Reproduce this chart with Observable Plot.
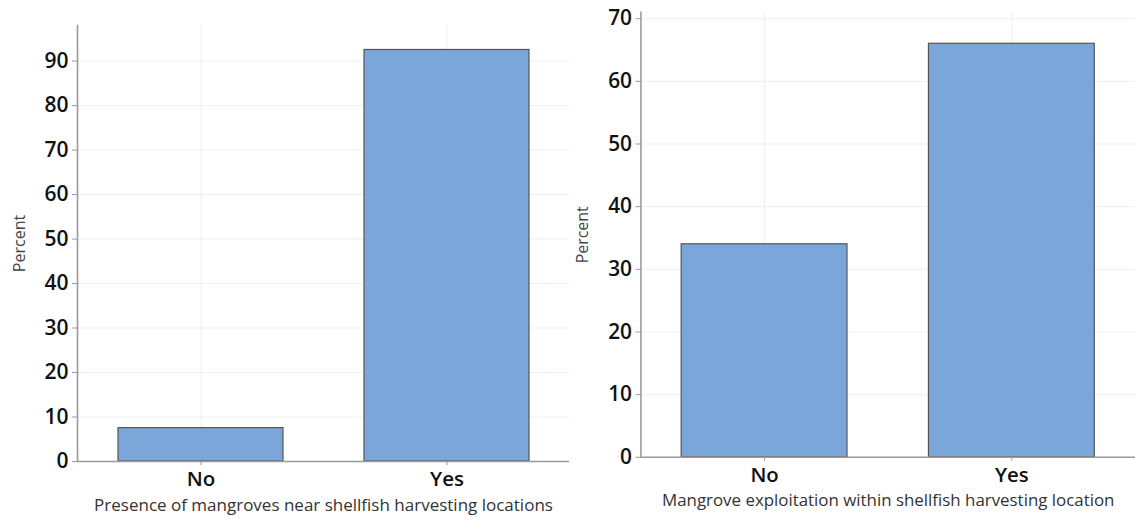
<!DOCTYPE html>
<html>
<head>
<meta charset="utf-8">
<script src="https://cdn.jsdelivr.net/npm/d3@7"></script>
<script src="https://cdn.jsdelivr.net/npm/@observablehq/plot@0.6"></script>
<style>
  html, body { margin: 0; padding: 0; background: #fff; overflow: hidden; }
  #wrap { position: relative; width: 1135px; height: 519px; }
  #left, #right { position: absolute; top: 0; }
  #left { left: 0; }
  #right { left: 560px; }
  svg { overflow: visible; }
</style>
</head>
<body>
<div id="wrap"><div id="left"></div><div id="right"></div></div>
<script>
// Data
const categories = ["No", "Yes"];
const leftValues = [7.5, 92.5];
const rightValues = [34, 66];
const leftTicks = [0, 10, 20, 30, 40, 50, 60, 70, 80, 90];
const rightTicks = [0, 10, 20, 30, 40, 50, 60, 70];
const leftTitle = "Presence of mangroves near shellfish harvesting locations";
const rightTitle = "Mangrove exploitation within shellfish harvesting location";
const yLabel = "Percent";

const FONT = "'Open Sans', 'Noto Sans', sans-serif";
const BAR_FILL = "#7BA6D9";
const BAR_STROKE = "#555555";
const AXIS = "#9a9a9a";
const GRID = "#efefef";

function panel({values, ticks, ymax, title, width, height, mt, mb, ml, mr, ylabDx}) {
  const data = categories.map((c, i) => ({cat: c, value: values[i]}));
  return Plot.plot({
    width, height,
    marginTop: mt, marginBottom: mb, marginLeft: ml, marginRight: mr,
    style: {fontFamily: FONT, background: "transparent", overflow: "visible"},
    x: {domain: categories, paddingInner: 0.33, paddingOuter: 0.165, label: null},
    y: {domain: [0, ymax], label: null},
    marks: [
      Plot.gridY(ticks, {stroke: GRID, strokeOpacity: 1}),
      Plot.gridX(categories, {stroke: GRID, strokeOpacity: 1}),
      Plot.barY(data, {x: "cat", y: "value", fill: BAR_FILL, stroke: BAR_STROKE, strokeWidth: 1.2}),
      Plot.ruleY([0], {stroke: AXIS, strokeWidth: 1.6}),
      Plot.frame({anchor: "left", stroke: AXIS, strokeWidth: 1.6}),
      Plot.axisY(ticks, {tickSize: 5, tickPadding: 4, fontSize: 21, fontWeight: 600, stroke: AXIS, fill: "#111", label: null}),
      Plot.axisX({tickSize: 4, tickPadding: 6, fontSize: 20.5, fontWeight: 600, stroke: AXIS, fill: "#111", label: null}),
      Plot.text([yLabel], {frameAnchor: "left", textAnchor: "middle", dx: ylabDx, rotate: -90, fontSize: 16, fill: "#444", text: d => d}),
      Plot.text([title], {frameAnchor: "bottom", dy: 49, fontSize: 17, fill: "#333", text: d => d})
    ]
  });
}

document.getElementById("left").append(panel({
  values: leftValues, ticks: leftTicks, ymax: 98, title: leftTitle,
  width: 580, height: 519, mt: 25, mb: 58, ml: 77, mr: 11, ylabDx: -58
}));
document.getElementById("right").append(panel({
  values: rightValues, ticks: rightTicks, ymax: 71, title: rightTitle,
  width: 579, height: 519, mt: 12, mb: 59, ml: 81, mr: 0, ylabDx: -58
}));
</script>
</body>
</html>
